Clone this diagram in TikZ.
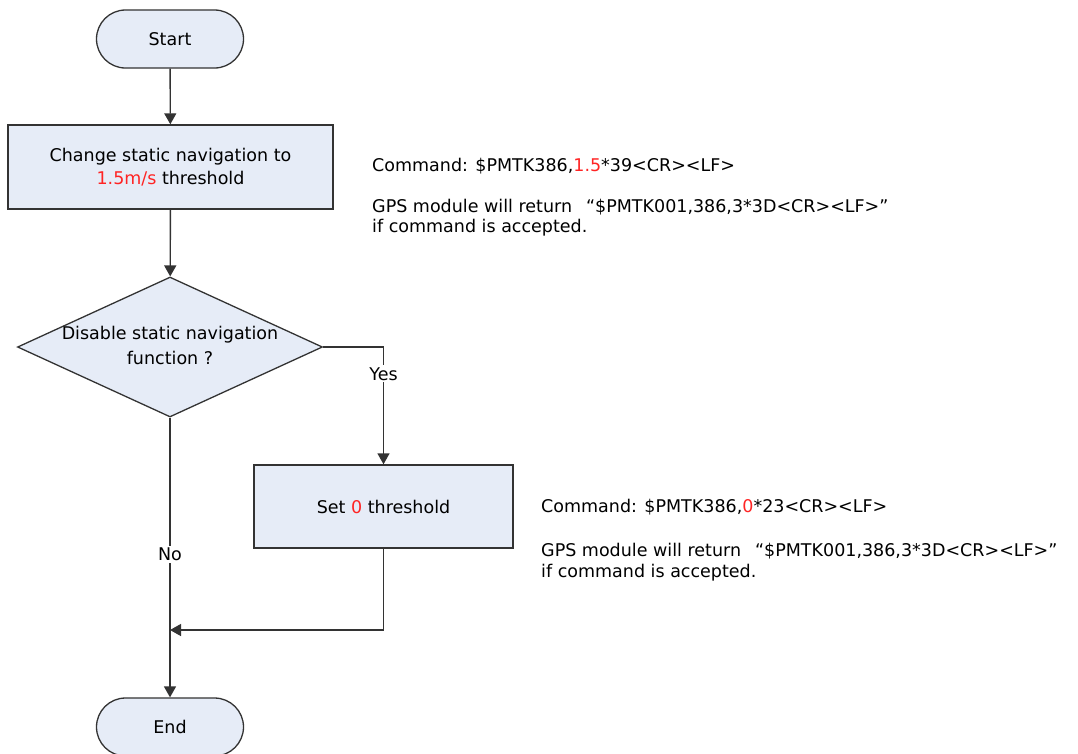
\documentclass[tikz,border=0pt]{standalone}
\usepackage{fontspec}
\setmainfont{DejaVu Sans}
\usetikzlibrary{shapes.geometric,shapes.misc,arrows.meta}
\definecolor{boxfill}{HTML}{E6ECF7}
\definecolor{hot}{HTML}{FF2424}
\definecolor{edge}{HTML}{333333}
\begin{document}
\begin{tikzpicture}[x=1pt,y=-1pt,
  font=\fontsize{17.5}{23}\selectfont,
  term/.style={draw=edge, fill=boxfill, line width=1.3pt, rounded rectangle,
    minimum width=147pt, minimum height=58pt, inner sep=0pt},
  proc/.style={draw=edge, fill=boxfill, line width=1.4pt, rectangle,
    align=center, inner sep=0pt},
  decision/.style={draw=edge, fill=boxfill, line width=1.3pt, diamond,
    minimum width=305pt, minimum height=140pt, inner sep=0pt},
  note/.style={anchor=base west, inner sep=0pt},
  tag/.style={fill=white, inner sep=2pt},
  arr/.style={draw=edge, line width=1.4pt, -{Triangle[length=11pt,width=12pt]}},
  wire/.style={draw=edge, line width=1.4pt}]
\useasboundingbox (0,0) rectangle (1078,753);

% flow boxes
\node[term] (start) at (170,39) {Start};
\node[proc, minimum width=325pt, minimum height=84pt] (b1) at (170.5,167)
  {Change static navigation to\\\textcolor{hot}{1.5m/s} threshold};
\node[decision] (dec) at (170,347) {};
\node[align=center, font=\fontsize{17.5}{25}\selectfont] (dect) at (170,345)
  {Disable static navigation\\function ?};
\node[proc, minimum width=259pt, minimum height=83pt] (b2) at (383.5,506.5)
  {Set \textcolor{hot}{0} threshold};
\node[term] (end) at (170,727) {End};
\coordinate (join) at (170,630);

% connectors
\draw[arr] (start) -- (b1);
\draw[arr] (b1) -- (dec);
\draw[arr] (dec.east) -| (b2.north) node[tag, pos=0.615] {Yes};
\draw[arr] (dec.south) -- (end.north) node[tag, pos=0.49] {No};
\draw[arr] (b2.south) |- (join);

% command notes
\node[note] (c1) at (372,171) {Command: \$PMTK386,\textcolor{hot}{1.5}*39<CR><LF>};
\node[note] (r1) at (372,212) {GPS module will return\hspace{14pt}“\$PMTK001,386,3*3D<CR><LF>”};
\node[note] (r1b) at (372,232) {if command is accepted.};
\node[note] (c2) at (541,512) {Command: \$PMTK386,\textcolor{hot}{0}*23<CR><LF>};
\node[note] (r2) at (541,556) {GPS module will return\hspace{14pt}“\$PMTK001,386,3*3D<CR><LF>”};
\node[note] (r2b) at (541,577) {if command is accepted.};
\end{tikzpicture}
\end{document}
